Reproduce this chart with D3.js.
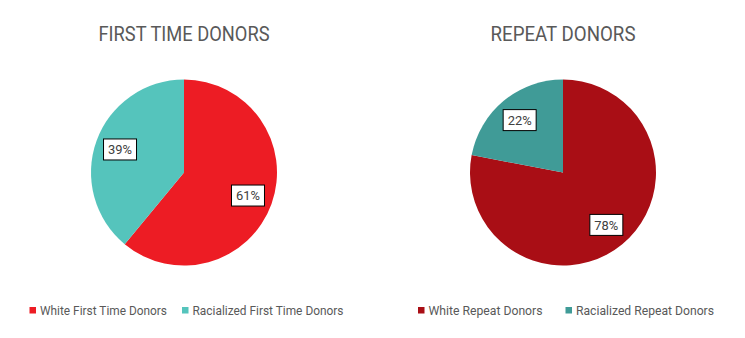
<!DOCTYPE html>
<html>
<head>
<meta charset="utf-8">
<script src="https://cdn.jsdelivr.net/npm/d3@7"></script>
<style>
  html, body { margin: 0; padding: 0; background: #fff; }
  svg { display: block; font-family: Roboto, "Noto Sans", sans-serif; }
</style>
</head>
<body>
<svg id="chart" width="745" height="338"></svg>
<script>
// Donor shares by group
const firstTimeCategories = ["White First Time Donors", "Racialized First Time Donors"];
const firstTimeValues = [61, 39];
const firstTimeColors = ["#ED1C24", "#55C4BC"];

const repeatCategories = ["White Repeat Donors", "Racialized Repeat Donors"];
const repeatValues = [78, 22];
const repeatColors = ["#A90E15", "#409B97"];

const titles = ["FIRST TIME DONORS", "REPEAT DONORS"];

const svg = d3.select("#chart");
const textColor = "#595959";

// fit a text node to a given width with a slightly condensed face
function fitWidth(sel, w) {
  const len = sel.node().getComputedTextLength();
  if (len > w) sel.attr("textLength", w).attr("lengthAdjust", "spacingAndGlyphs");
  return sel;
}

const charts = [
  { title: titles[0], cats: firstTimeCategories, vals: firstTimeValues, colors: firstTimeColors,
    cx: 184, titleW: 171, legendX: [29.5, 182], legendW: [127, 151] },
  { title: titles[1], cats: repeatCategories, vals: repeatValues, colors: repeatColors,
    cx: 563, titleW: 145, legendX: [418, 565.5], legendW: [114, 138] }
];

const radius = 93;
const cy = 172.5;
const labelRadius = 68;

charts.forEach(c => {
  const g = svg.append("g");

  fitWidth(g.append("text")
    .attr("x", c.cx).attr("y", 41)
    .attr("text-anchor", "middle")
    .attr("font-size", 19.5)
    .attr("fill", textColor)
    .text(c.title), c.titleW);

  const data = c.cats.map((k, i) => ({ key: k, value: c.vals[i], color: c.colors[i] }));
  const pie = d3.pie().value(d => d.value).sort(null).startAngle(0).endAngle(2 * Math.PI);
  const arcs = pie(data);
  const arc = d3.arc().innerRadius(0).outerRadius(radius);

  const pg = g.append("g").attr("transform", `translate(${c.cx},${cy})`);
  pg.selectAll("path").data(arcs).join("path")
    .attr("d", arc)
    .attr("fill", d => d.data.color);

  // value labels in white boxes
  arcs.forEach(a => {
    const mid = (a.startAngle + a.endAngle) / 2;
    const x = Math.sin(mid) * labelRadius;
    const y = -Math.cos(mid) * labelRadius;
    const lg = pg.append("g").attr("transform", `translate(${x},${y})`);
    lg.append("rect")
      .attr("x", -16.5).attr("y", -10.5)
      .attr("width", 33).attr("height", 21)
      .attr("fill", "#fff").attr("stroke", "#000").attr("stroke-width", 1);
    fitWidth(lg.append("text")
      .attr("text-anchor", "middle").attr("dy", "0.36em")
      .attr("font-size", 13)
      .attr("fill", "#404040")
      .text(d3.format(".0f")(a.data.value) + "%"), 24);
  });

  // legend
  data.forEach((d, i) => {
    const lx = c.legendX[i];
    svg.append("rect")
      .attr("x", lx).attr("y", 307)
      .attr("width", 6.5).attr("height", 6.5)
      .attr("fill", d.color);
    fitWidth(svg.append("text")
      .attr("x", lx + 10.5).attr("y", 315)
      .attr("font-size", 13)
      .attr("fill", textColor)
      .text(d.key), c.legendW[i]);
  });
});
</script>
</body>
</html>
